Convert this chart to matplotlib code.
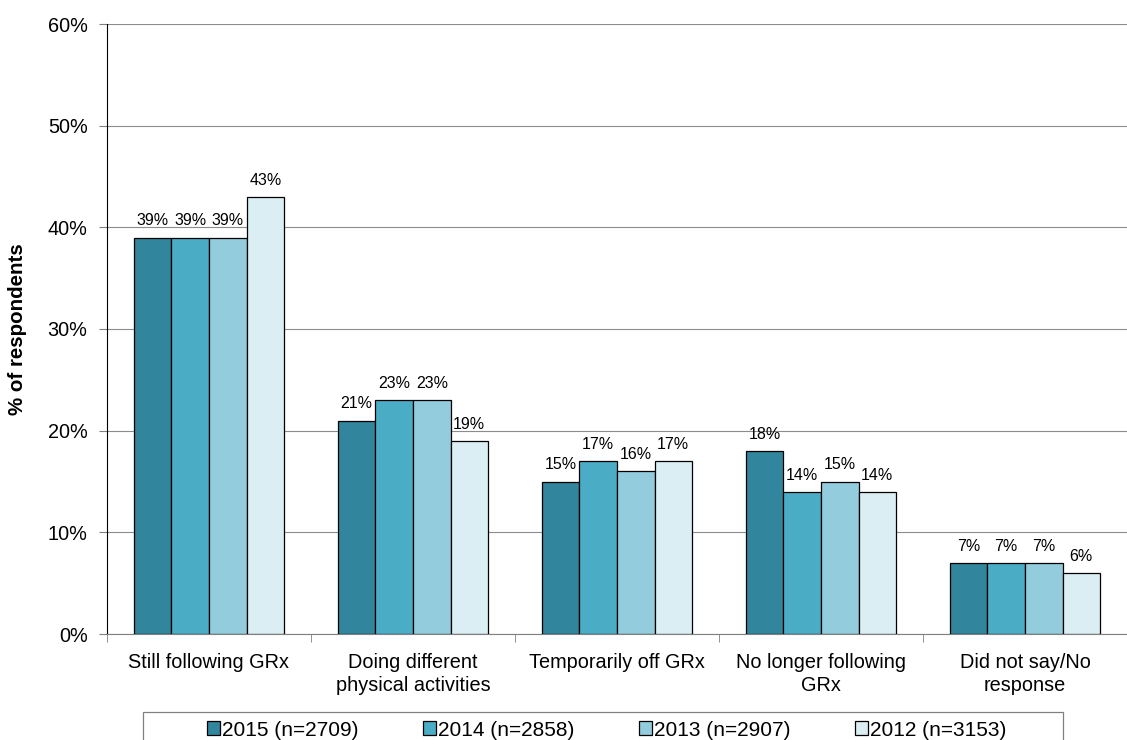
import numpy as np
import matplotlib.pyplot as plt
from matplotlib.patches import Rectangle
from matplotlib.ticker import FixedLocator, PercentFormatter

plt.rcParams['font.family'] = ['Liberation Sans', 'DejaVu Sans']

categories = ["Still following GRx", "Doing different\nphysical activities",
              "Temporarily off GRx", "No longer following\nGRx", "Did not say/No\nresponse"]
series_names = ["2015 (n=2709)", "2014 (n=2858)", "2013 (n=2907)", "2012 (n=3153)"]
values_2015 = [39, 21, 15, 18, 7]
values_2014 = [39, 23, 17, 14, 7]
values_2013 = [39, 23, 16, 15, 7]
values_2012 = [43, 19, 17, 14, 6]
colors = ["#31859C", "#4BACC6", "#93CDDD", "#DBEEF4"]

fig = plt.figure(figsize=(11.27, 7.4), dpi=100)
ax = fig.add_axes([107 / 1127, 1 - 634 / 740, 1 - 107 / 1127, (634 - 24) / 740])

x = np.arange(len(categories))
width = 0.184
series = [values_2015, values_2014, values_2013, values_2012]
handles = []
for i, (vals, col, name) in enumerate(zip(series, colors, series_names)):
    pos = x + (i - 1.5) * width
    b = ax.bar(pos, vals, width, color=col, edgecolor="black", linewidth=0.9,
               label=name, zorder=3)
    handles.append(b)
    for p, v in zip(pos, vals):
        ax.text(p, v + 0.9, f"{v}%", ha="center", va="bottom", fontsize=11.5)

ax.set_xlim(-0.5, len(categories) - 0.5)
ax.set_ylim(0, 60)
ax.set_yticks(np.arange(0, 61, 10))
ax.yaxis.set_major_formatter(PercentFormatter(decimals=0))
ax.yaxis.grid(True, color="#8c8c8c", linewidth=0.8, zorder=0)
ax.tick_params(axis="y", labelsize=14.3, length=6, pad=8, direction="out", color="#808080")

ax.set_xticks(x)
ax.set_xticklabels(categories, fontsize=14.3, linespacing=1.22)
ax.tick_params(axis="x", which="major", length=0, pad=14)
ax.xaxis.set_minor_locator(FixedLocator(np.arange(-0.5, len(categories), 1.0)))
ax.tick_params(axis="x", which="minor", length=6, color="#808080")

for side in ["top", "right"]:
    ax.spines[side].set_visible(False)
ax.spines["left"].set_color("black")
ax.spines["bottom"].set_color("#808080")

ax.set_ylabel("% of respondents", fontsize=14.8, fontweight="bold", labelpad=15)

# legend box runs off the bottom edge of the figure
fig.patches.append(Rectangle((143 / 1127, -0.05), 920 / 1127, 0.05 + (740 - 712) / 740,
                             transform=fig.transFigure, facecolor="white",
                             edgecolor="#808080", linewidth=0.9))
fig.legend(handles=handles, loc="center", bbox_to_anchor=(607 / 1127, 1 - 730 / 740),
           ncol=4, frameon=False, fontsize=15, handlelength=0.62, handleheight=0.62,
           handletextpad=0.1, columnspacing=3.1, borderaxespad=0)

fig.savefig("out.png", dpi=100)
